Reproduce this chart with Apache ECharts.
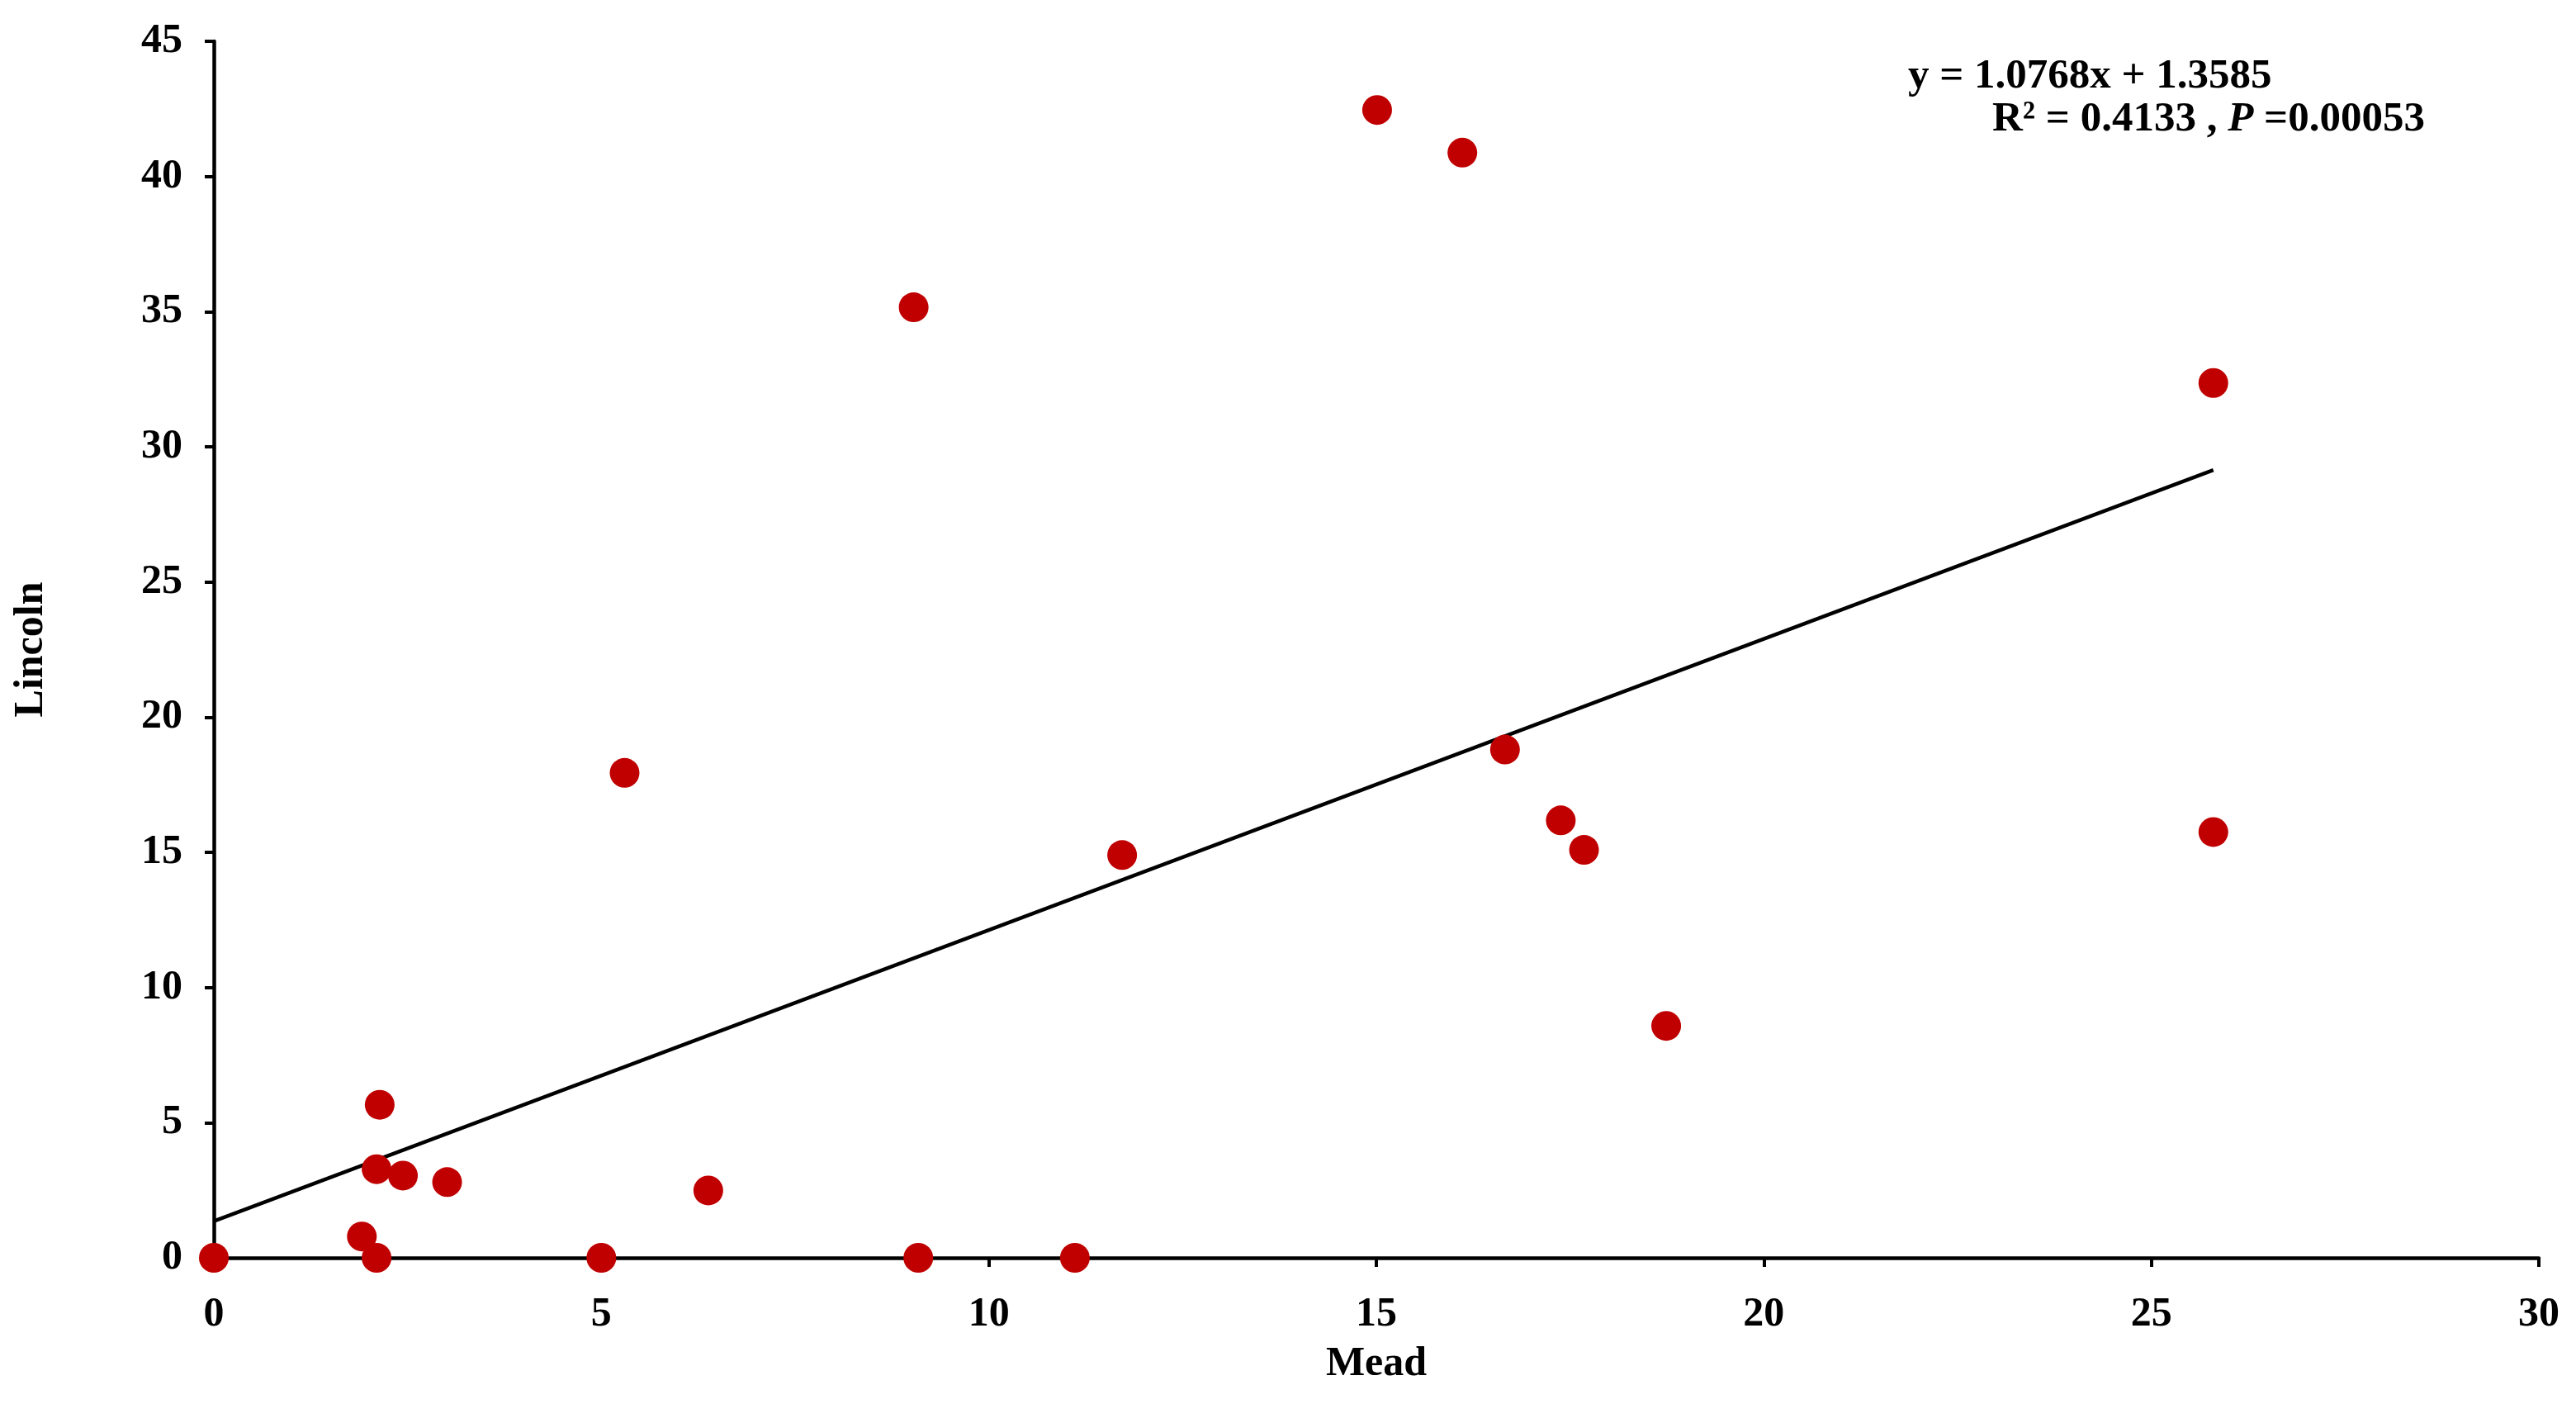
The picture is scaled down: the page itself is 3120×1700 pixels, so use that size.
<!DOCTYPE html>
<html>
<head>
<meta charset="utf-8">
<script src="https://cdn.jsdelivr.net/npm/echarts@6/dist/echarts.min.js"></script>
<style>html,body{margin:0;padding:0;background:#fff}#c{width:3120px;height:1700px}</style>
</head>
<body>
<div id="c"></div>
<script>
const meadX = [0, 1.91, 2.10, 2.10, 2.14, 2.44, 3.01, 5.0, 5.30, 6.38, 9.03, 9.09, 11.11, 11.72, 15.01, 16.11, 16.66, 17.38, 17.68, 18.74, 25.80, 25.80];
const lincolnY = [0, 0.79, 0, 3.28, 5.66, 3.04, 2.80, 0, 17.94, 2.49, 35.16, 0, 0, 14.90, 42.46, 40.88, 18.80, 16.18, 15.09, 8.58, 32.36, 15.75];
const slope = 1.0768;
const intercept = 1.3585;
const eqLine1 = 'y = 1.0768x + 1.3585';
const eqR2 = 'R² = 0.4133 , ';
const eqP = ' =0.00053';
const xTicks = [0, 5, 10, 15, 20, 25, 30];
const yTicks = [0, 5, 10, 15, 20, 25, 30, 35, 40, 45];

const points = meadX.map((x, i) => [x, lincolnY[i]]);
const xMaxData = Math.max(...meadX);
const fitLine = [[0, intercept], [xMaxData, slope * xMaxData + intercept]];

const FONT = '"Liberation Serif", "Times New Roman", serif';
const FS = 50;
const chart = echarts.init(document.getElementById('c'));
chart.setOption({
  animation: false,
  backgroundColor: '#fff',
  grid: { left: 259, right: 45, top: 50, bottom: 177 },
  title: [
    { text: eqLine1, left: 2306, top: 62,
      textStyle: { fontFamily: FONT, fontWeight: 'bold', fontSize: 51, color: '#000' } },
    { text: eqR2 + '{i|P}' + eqP, left: 2408, top: 114,
      textStyle: { fontFamily: FONT, fontWeight: 'bold', fontSize: 51, color: '#000',
        rich: { i: { fontFamily: FONT, fontWeight: 'bold', fontStyle: 'italic', fontSize: 51, color: '#000' } } } }
  ],
  xAxis: {
    type: 'value', min: xTicks[0], max: xTicks[xTicks.length - 1], interval: 5,
    name: 'Mead', nameLocation: 'middle', nameGap: 104,
    nameTextStyle: { fontFamily: FONT, fontWeight: 'bold', fontSize: FS, color: '#000' },
    axisLine: { onZero: false, lineStyle: { color: '#000', width: 4.5 } },
    axisTick: { show: true, length: 11, lineStyle: { color: '#000', width: 4 } },
    axisLabel: { fontFamily: FONT, fontWeight: 'bold', fontSize: FS, color: '#000', margin: 44 },
    splitLine: { show: false }
  },
  yAxis: {
    type: 'value', min: yTicks[0], max: yTicks[yTicks.length - 1], interval: 5,
    name: 'Lincoln', nameLocation: 'middle', nameGap: 196, nameRotate: 90,
    nameTextStyle: { fontFamily: FONT, fontWeight: 'bold', fontSize: FS, color: '#000' },
    axisLine: { show: true, onZero: false, lineStyle: { color: '#000', width: 4.5 } },
    axisTick: { show: true, length: 11, lineStyle: { color: '#000', width: 4 } },
    axisLabel: { fontFamily: FONT, fontWeight: 'bold', fontSize: FS, color: '#000', margin: 38 },
    splitLine: { show: false }
  },
  series: [
    { type: 'line', data: fitLine, symbol: 'none', z: 3,
      lineStyle: { color: '#000', width: 4.5 } },
    { type: 'scatter', data: points, symbol: 'circle', symbolSize: 36, z: 4,
      itemStyle: { color: '#C00000', opacity: 1 } }
  ]
});
</script>
</body>
</html>
